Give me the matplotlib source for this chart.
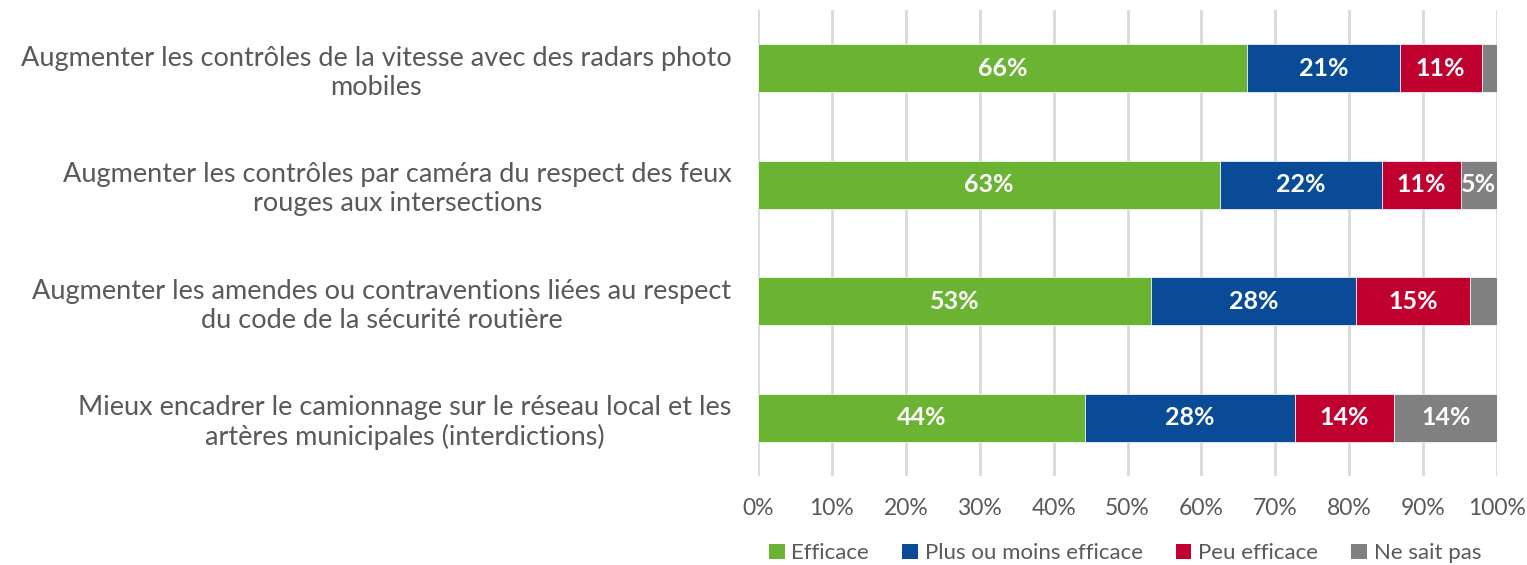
import matplotlib
matplotlib.use("Agg")
import matplotlib.pyplot as plt
from matplotlib.patches import Patch

plt.rcParams['font.family'] = ['Lato', 'DejaVu Sans']

categories = [
    "Augmenter les contrôles de la vitesse avec des radars photo\nmobiles",
    "Augmenter les contrôles par caméra du respect des feux\nrouges aux intersections",
    "Augmenter les amendes ou contraventions liées au respect\ndu code de la sécurité routière",
    "Mieux encadrer le camionnage sur le réseau local et les\nartères municipales (interdictions)",
]
series_names = ["Efficace", "Plus ou moins efficace", "Peu efficace", "Ne sait pas"]
efficace = [66.2, 62.5, 53.2, 44.2]
plus_ou_moins = [20.6, 21.9, 27.7, 28.4]
peu_efficace = [11.1, 10.7, 15.4, 13.5]
ne_sait_pas = [2.1, 4.9, 3.7, 13.9]
labels = [
    ["66%", "63%", "53%", "44%"],
    ["21%", "22%", "28%", "28%"],
    ["11%", "11%", "15%", "14%"],
    ["", "5%", "", "14%"],
]
xticks = [0, 10, 20, 30, 40, 50, 60, 70, 80, 90, 100]
xtick_labels = [f"{t}%" for t in xticks]

colors = ["#6AB333", "#0A4B98", "#C0002F", "#808080"]
text_gray = "#595959"

fig = plt.figure(figsize=(15.27, 5.65), dpi=100)
ax = fig.add_axes([0.4964, 0.1575, 0.484, 0.8248])

series = [efficace, plus_ou_moins, peu_efficace, ne_sait_pas]
y = list(range(len(categories)))
left = [0.0] * len(categories)
for s, vals in enumerate(series):
    bars = ax.barh(y, vals, left=left, height=0.41, color=colors[s],
                   edgecolor="white", linewidth=0.5, zorder=3)
    for i, b in enumerate(bars):
        lab = labels[s][i]
        if lab:
            ax.text(b.get_x() + b.get_width() / 2, b.get_y() + b.get_height() / 2,
                    lab, ha="center", va="center", color="white",
                    fontsize=18, fontweight="bold", zorder=4)
    left = [l + v for l, v in zip(left, vals)]

ax.set_xlim(0, 100)
ax.set_ylim(len(categories) - 0.5, -0.5)
ax.set_xticks(xticks)
ax.set_xticklabels(xtick_labels, fontsize=16.5, color=text_gray)
ax.set_yticks(y)
ax.set_yticklabels(categories, fontsize=19.5, color=text_gray, multialignment="center")
ax.tick_params(axis="x", length=0, pad=16)
ax.tick_params(axis="y", length=0, pad=19)
ax.grid(axis="x", color="#D9D9D9", linewidth=2, zorder=0)
for sp in ax.spines.values():
    sp.set_visible(False)

handles = [Patch(facecolor=c, label=n) for c, n in zip(colors, series_names)]
fig.legend(handles=handles, loc="center", bbox_to_anchor=(0.7368, 0.021),
           ncol=4, frameon=False, fontsize=16, handlelength=0.7, handleheight=0.7,
           handletextpad=0.3, columnspacing=1.5, labelcolor=text_gray,
           borderaxespad=0, borderpad=0)

fig.savefig("out.png", dpi=100)
